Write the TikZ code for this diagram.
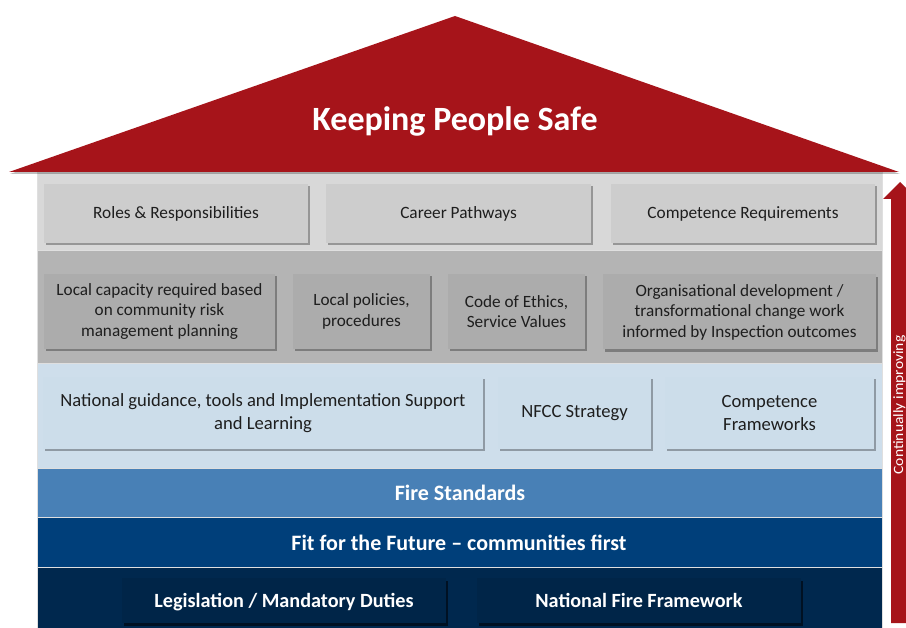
\documentclass[tikz,border=0pt]{standalone}
\usepackage{fontspec}
\setmainfont{Carlito}
\newfontfamily\widefont[FakeStretch=1.1]{Carlito}
\usetikzlibrary{shadows}
\definecolor{roofred}{RGB}{166,20,26}
\definecolor{rowA}{RGB}{216,216,216}
\definecolor{boxA}{RGB}{205,205,205}
\definecolor{rowB}{RGB}{180,180,180}
\definecolor{boxB}{RGB}{172,172,172}
\definecolor{rowC}{RGB}{206,222,235}
\definecolor{boxC}{RGB}{204,221,234}
\definecolor{rowD}{RGB}{72,128,182}
\definecolor{rowE}{RGB}{0,63,122}
\definecolor{rowF}{RGB}{0,40,78}
\definecolor{boxF}{RGB}{0,37,72}
\definecolor{txtdark}{RGB}{30,30,30}
\tikzset{
  band/.style={rectangle, inner sep=0pt, anchor=north west, draw=white!75!gray, line width=0.6pt},
  gbox/.style={rectangle, inner sep=0pt, align=center, text=txtdark,
     drop shadow={shadow xshift=2pt, shadow yshift=-2.5pt, fill=black, opacity=0.3}},
  boxa/.style={gbox, fill=boxA, minimum height=59pt, font=\fontsize{17.3}{21}\selectfont},
  boxb/.style={gbox, fill=boxB, minimum height=75pt, font=\fontsize{17.2}{20.5}\selectfont},
  boxc/.style={gbox, fill=boxC, minimum height=72pt, font=\fontsize{18.6}{23}\selectfont},
  boxf/.style={gbox, fill=boxF, text=white, minimum height=45pt, text depth=0pt,
     font=\bfseries\fontsize{20.2}{24}\selectfont,
     drop shadow={shadow xshift=2pt, shadow yshift=-2.5pt, fill=black, opacity=0.35}},
  bandtext/.style={text=white, font=\bfseries\fontsize{22}{26}\selectfont}
}
\begin{document}
\begin{tikzpicture}[x=1pt,y=-1pt]
\useasboundingbox[fill=white] (0,0) rectangle (906,628);
% bands
\node[band, fill=rowA, minimum width=845pt, minimum height=78pt] (bandA) at (37,172) {};
\node[band, fill=rowB, minimum width=845pt, minimum height=113pt] (bandB) at (37,250) {};
\node[band, fill=rowC, minimum width=845pt, minimum height=105pt] (bandC) at (37,363) {};
\node[band, fill=rowD, minimum width=845pt, minimum height=49pt] (bandD) at (37,468) {};
\node[band, fill=rowE, minimum width=845pt, minimum height=50pt] (bandE) at (37,517) {};
\node[band, fill=rowF, minimum width=845pt, minimum height=62pt] (bandF) at (37,567) {};
% roof
\fill[roofred, drop shadow={shadow xshift=1pt, shadow yshift=-2pt, fill=black, opacity=0.25}] (9,172) -- (455,16) -- (899,172) -- cycle;
\node[text=white, font=\bfseries\fontsize{34}{38}\selectfont] (safe) at (455,121) {Keeping People Safe};
% row 1
\node[boxa, minimum width=264pt] (rr) at (176,213.5) {Roles \& Responsibilities};
\node[boxa, minimum width=265pt] (cp) at (458.5,213.5) {Career Pathways};
\node[boxa, minimum width=264pt] (cr) at (743,213.5) {Competence Requirements};
% row 2
\node[boxb, minimum width=231pt] (lc) at (159.5,311.5) {Local capacity required based\\on community risk\\management planning};
\node[boxb, minimum width=137pt] (lp) at (361.5,311.5) {Local policies,\\procedures};
\node[boxb, minimum width=137pt] (ce) at (516.5,311.5) {Code of Ethics,\\Service Values};
\node[boxb, minimum width=273pt] (od) at (739.5,312) {Organisational development /\\transformational change work\\informed by Inspection outcomes};
% row 3
\node[boxc, minimum width=440pt] (ng) at (263,413) {National guidance, tools and Implementation Support\\and Learning};
\node[boxc, minimum width=153pt] (nf) at (574.5,413) {NFCC Strategy};
\node[boxc, minimum width=209pt] (cf) at (769.5,413) {Competence\\Frameworks};
% band texts
\node[bandtext] (fs) at (460,492.5) {Fire Standards};
\node[bandtext] (fit) at (459,543) {Fit for the Future -- communities first};
% row 6
\node[boxf, minimum width=324pt] (lm) at (284,600.5) {Legislation / Mandatory Duties};
\node[boxf, minimum width=324pt] (nff) at (639,600.5) {National Fire Framework};
% arrow
\fill[roofred] (891,623) -- (891,199) -- (883,199) -- (900,182) -- (917,199) -- (909,199) -- (909,623) -- cycle;
\node[text=white, rotate=90, inner sep=0pt, font=\widefont\fontsize{14.2}{16}\selectfont] (ci) at (899.5,405) {Continually improving};
\end{tikzpicture}
\end{document}
